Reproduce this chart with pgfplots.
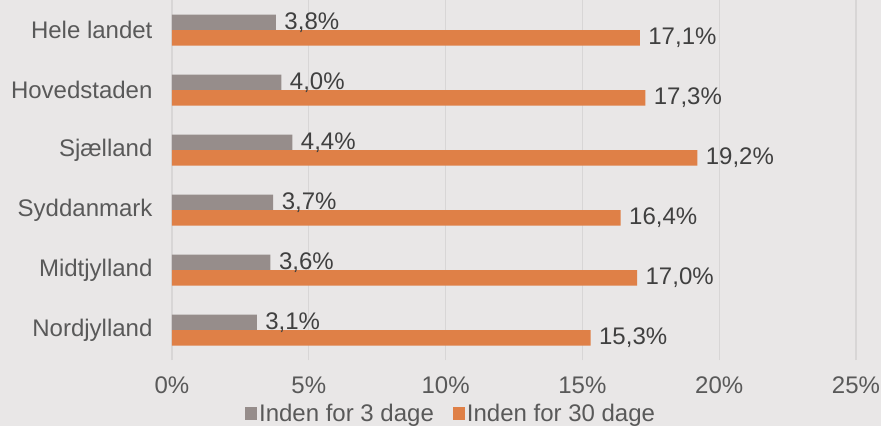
\documentclass[border=0pt]{standalone}
\usepackage{fontspec}
\setmainfont{Liberation Sans}
\usepackage{pgfplots}
\pgfplotsset{compat=1.18}

\definecolor{bgc}{RGB}{233,231,231}
\definecolor{gridc}{RGB}{216,214,214}
\definecolor{barg}{RGB}{150,141,139}
\definecolor{baro}{RGB}{223,128,71}
\definecolor{lblc}{RGB}{89,89,89}
\definecolor{valc}{RGB}{64,64,64}

\begin{document}
\begin{tikzpicture}
\fill[bgc] (-172pt,-66pt) rectangle (709pt,360pt);
\useasboundingbox (-172pt,-66pt) rectangle (709pt,360pt);
\begin{axis}[
    at={(0,0)}, anchor=south west,
    scale only axis,
    width=684pt, height=360pt,
    xbar, bar width=15.5pt,
    xmin=0, xmax=25,
    ymin=-0.5, ymax=5.5,
    axis line style={draw=none},
    major tick length=0pt,
    xtick={0,5,10,15,20,25},
    xticklabels={0\%,5\%,10\%,15\%,20\%,25\%},
    ytick={0,1,2,3,4,5},
    yticklabels={Nordjylland,Midtjylland,Syddanmark,Sj{\ae}lland,Hovedstaden,Hele landet},
    xmajorgrids, ymajorgrids=false,
    major grid style={draw=gridc, line width=1.3pt},
    tick label style={font=\fontsize{24}{28}\selectfont, text=lblc},
    xticklabel style={yshift=-16pt, inner sep=1pt},
    yticklabel style={xshift=-16pt},
    /pgf/number format/assume math mode=true,
    nodes near coords={\pgfmathprintnumber[fixed,fixed zerofill,precision=1,use comma]{\pgfplotspointmeta}\%},
    every node near coord/.append style={font=\fontsize{24}{28}\selectfont, text=valc, xshift=5pt},
    legend style={at={(0.408,-0.149)}, anchor=center, legend columns=2,
        draw=none, fill=none, font=\fontsize{24}{24}\selectfont, text=lblc,
        /tikz/every even column/.append style={column sep=17pt},
        inner sep=0pt},
    legend image code/.code={\fill[#1] (0pt,-6.5pt) rectangle (12pt,6.5pt);},
    clip=false,
]
\addplot[draw=none, fill=barg, bar shift=7.75pt] coordinates {
    (3.8,5) (4.0,4) (4.4,3) (3.7,2) (3.6,1) (3.1,0)
};
\addlegendentry{Inden for 3 dage}
\addplot[draw=none, fill=baro, bar shift=-7.75pt] coordinates {
    (17.1,5) (17.3,4) (19.2,3) (16.4,2) (17.0,1) (15.3,0)
};
\addlegendentry{Inden for 30 dage}
\end{axis}
\end{tikzpicture}
\end{document}
